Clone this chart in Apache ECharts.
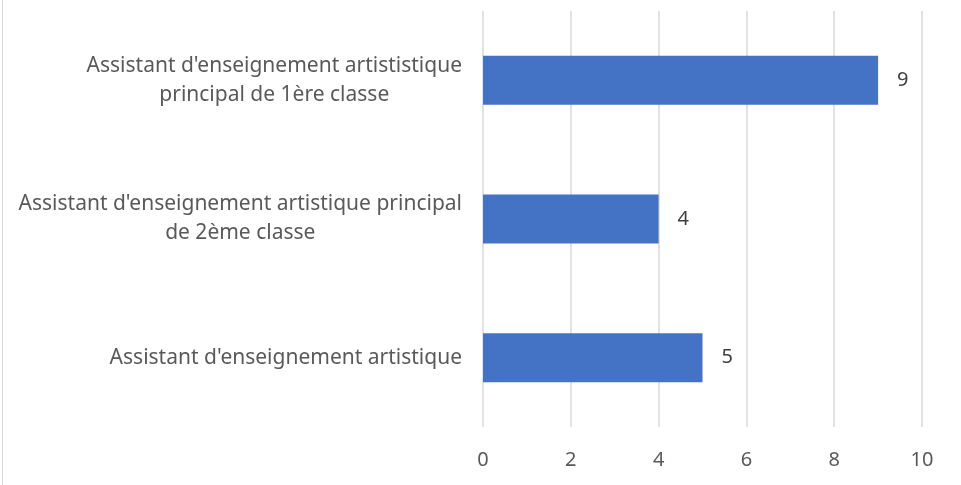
<!DOCTYPE html>
<html>
<head>
<meta charset="utf-8">
<script src="https://cdn.jsdelivr.net/npm/echarts@6/dist/echarts.min.js"></script>
<style>
  html, body { margin: 0; padding: 0; background: #fff; }
  #chart { width: 961px; height: 485px; }
</style>
</head>
<body>
<div id="chart"></div>
<script>
// catégories (de bas en haut)
const categories = [
  "Assistant d'enseignement artistique",
  "Assistant d'enseignement artistique principal\nde 2ème classe",
  "Assistant d'enseignement artististique\nprincipal de 1ère classe"
];
const effectifs = [5, 4, 9];
const xTicks = [0, 2, 4, 6, 8, 10];

const chart = echarts.init(document.getElementById("chart"));

const option = {
  animation: false,
  textStyle: { fontFamily: "Noto Sans" },
  grid: {
    left: 483,
    right: 39,
    top: 11,
    bottom: 58,
    containLabel: false
  },
  // cadre à gauche
  graphic: [
    {
      type: "line",
      shape: { x1: 2.5, y1: 0, x2: 2.5, y2: 485 },
      style: { stroke: "#d9d9d9", lineWidth: 1 }
    }
  ],
  xAxis: {
    type: "value",
    min: xTicks[0],
    max: xTicks[xTicks.length - 1],
    interval: 2,
    axisLine: { show: false },
    axisTick: { show: false },
    axisLabel: {
      color: "#595959",
      fontSize: 20,
      margin: 23
    },
    splitLine: {
      lineStyle: { color: "#d9d9d9", width: 1.5 }
    }
  },
  yAxis: {
    type: "category",
    data: categories,
    axisLine: { show: false },
    axisTick: { show: false },
    axisLabel: {
      color: "#595959",
      fontSize: 21,
      margin: 21,
      lineHeight: 29,
      // lignes centrées dans le bloc
      formatter: function (v) {
        return v.split("\n").map(function (l) { return "{c|" + l + "}"; }).join("\n");
      },
      rich: {
        c: { align: "center", color: "#595959", fontSize: 21, lineHeight: 29 }
      }
    }
  },
  series: [
    {
      type: "bar",
      data: effectifs,
      barWidth: 49,
      itemStyle: { color: "#4472c4" },
      label: {
        show: true,
        position: "right",
        distance: 19,
        color: "#404040",
        fontSize: 20
      }
    }
  ]
};

chart.setOption(option);
</script>
</body>
</html>
